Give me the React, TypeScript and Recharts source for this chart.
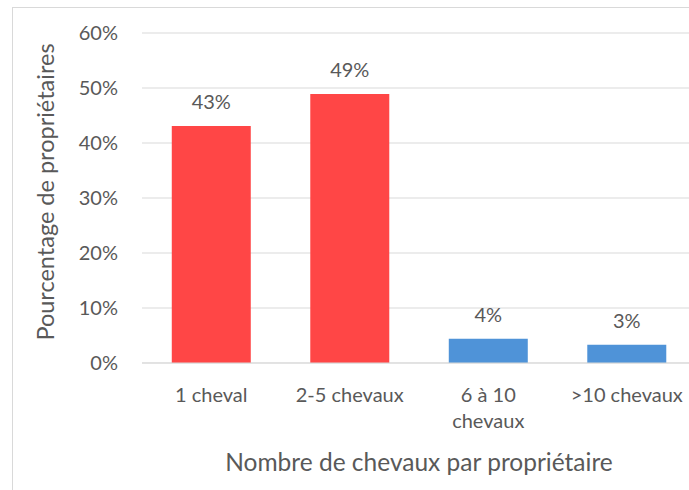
import React from 'react';
import { BarChart, Bar, XAxis, YAxis, CartesianGrid, LabelList, Cell } from 'recharts';

const categories = ['1 cheval', '2-5 chevaux', '6 à 10\nchevaux', '>10 chevaux'];
const shares = [43.1, 48.9, 4.4, 3.3];
const barColors = ['#FF4646', '#FF4646', '#4F93D8', '#4F93D8'];
const yTicks = [0, 10, 20, 30, 40, 50, 60];

const data = categories.map((c, i) => ({ categorie: c, part: shares[i] }));

const FONT = 'Lato, "Open Sans", sans-serif';
const TEXT = '#595959';

const CategoryTick = (props: any) => {
  const { x, y, payload } = props;
  const lines = String(payload.value).split('\n');
  return (
    <text x={x} y={y} textAnchor="middle" fill={TEXT} fontSize={20} fontFamily={FONT}>
      {lines.map((l, i) => (
        <tspan key={i} x={x} dy={i === 0 ? 31 : 26}>
          {l}
        </tspan>
      ))}
    </text>
  );
};

export default function App() {
  return (
    <div style={{ position: 'absolute', left: 0, top: 0, width: 689, height: 490, overflow: 'hidden', background: '#fff' }}>
      <div style={{ position: 'absolute', left: 12, top: 7, width: 720, height: 520, border: '1px solid #d9d9d9' }} />
      <div style={{ position: 'absolute', left: 0, top: 0 }}>
        <BarChart
          width={700}
          height={490}
          data={data}
          margin={{ top: 33, right: 4, bottom: 0, left: 0 }}
          barCategoryGap="21.5%"
        >
          <CartesianGrid vertical={false} stroke="#d9d9d9" />
          <XAxis
            dataKey="categorie"
            height={127}
            tickLine={false}
            axisLine={{ stroke: '#d9d9d9' }}
            tick={<CategoryTick />}
            interval={0}
            label={{
              value: 'Nombre de chevaux par propriétaire',
              position: 'insideBottom',
              offset: 19,
              fill: TEXT,
              fontSize: 24.5,
              fontFamily: FONT,
            }}
          />
          <YAxis
            width={142}
            domain={[0, 60]}
            ticks={yTicks}
            tickLine={false}
            axisLine={false}
            tickMargin={18}
            tickFormatter={(v: number) => `${v}%`}
            tick={{ fill: TEXT, fontSize: 20, fontFamily: FONT }}
            label={{
              value: 'Pourcentage de propriétaires',
              angle: -90,
              position: 'insideLeft',
              offset: 46,
              dy: -6,
              fill: TEXT,
              fontSize: 23.5,
              fontFamily: FONT,
              style: { textAnchor: 'middle' },
            }}
          />
          <Bar dataKey="part" isAnimationActive={false}>
            {data.map((d, i) => (
              <Cell key={d.categorie} fill={barColors[i]} />
            ))}
            <LabelList
              dataKey="part"
              position="top"
              offset={17}
              formatter={(v: any) => `${Math.round(Number(v))}%`}
              fill={TEXT}
              fontSize={20}
              fontFamily={FONT}
            />
          </Bar>
        </BarChart>
      </div>
    </div>
  );
}
